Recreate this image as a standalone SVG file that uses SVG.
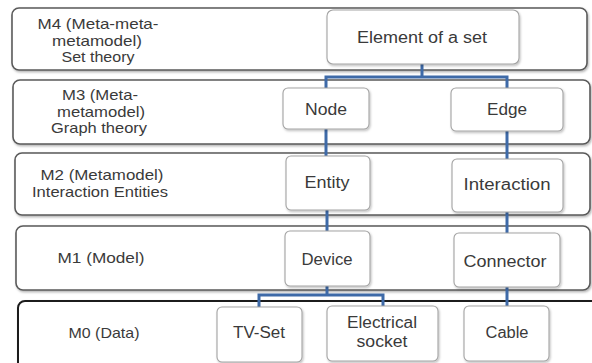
<svg xmlns="http://www.w3.org/2000/svg" width="592" height="363" viewBox="0 0 592 363">
<style>
.layer{fill:#fff;stroke:#5a5a5a;stroke-width:1.6;filter:url(#sh)}
.node{fill:#fff;stroke:#a3a3a3;stroke-width:1.1;filter:url(#sh2)}
text{font-family:"Liberation Sans",Arial,sans-serif;font-size:16px;fill:#3a3a3a;text-anchor:middle}
.lbl{font-size:15px}
.conn{fill:none;stroke:#3e6aa8;stroke-width:3}
</style>
<defs>
<filter id="sh" x="-5%" y="-10%" width="110%" height="130%">
<feDropShadow dx="1" dy="1.5" stdDeviation="0.8" flood-color="#000" flood-opacity="0.3"/>
</filter>
<filter id="sh2" x="-10%" y="-10%" width="125%" height="130%">
<feDropShadow dx="1" dy="1.5" stdDeviation="1" flood-color="#000" flood-opacity="0.25"/>
</filter>
</defs>
<g id="layer-m4"><rect class="layer" x="12" y="8" width="575" height="62" rx="7"/>
<text class="lbl" x="98" y="29" textLength="121" lengthAdjust="spacingAndGlyphs">M4 (Meta-meta-</text>
<text class="lbl" x="97" y="46" textLength="90" lengthAdjust="spacingAndGlyphs">metamodel)</text>
<text class="lbl" x="98" y="62" textLength="73" lengthAdjust="spacingAndGlyphs">Set theory</text></g>
<g id="layer-m3"><rect class="layer" x="13" y="80" width="577" height="64" rx="7"/>
<text class="lbl" x="100" y="100" textLength="76" lengthAdjust="spacingAndGlyphs">M3 (Meta-</text>
<text class="lbl" x="101" y="117" textLength="88" lengthAdjust="spacingAndGlyphs">metamodel)</text>
<text class="lbl" x="99" y="133" textLength="96" lengthAdjust="spacingAndGlyphs">Graph theory</text></g>
<g id="layer-m2"><rect class="layer" x="15" y="153" width="575" height="62" rx="7"/>
<text class="lbl" x="102" y="180" textLength="123" lengthAdjust="spacingAndGlyphs">M2 (Metamodel)</text>
<text class="lbl" x="100" y="197" textLength="136" lengthAdjust="spacingAndGlyphs">Interaction Entities</text></g>
<g id="layer-m1"><rect class="layer" x="16" y="226" width="574" height="64" rx="7"/>
<text class="lbl" x="101" y="263" textLength="87" lengthAdjust="spacingAndGlyphs">M1 (Model)</text></g>
<g id="layer-m0"><rect class="layer" x="18" y="301" width="590" height="72" rx="7" style="stroke:#1e1e1e;stroke-width:2"/>
<text class="lbl" x="104" y="338" textLength="71" lengthAdjust="spacingAndGlyphs">M0 (Data)</text></g>
<g id="connectors">
<path class="conn" d="M422,64 V77 H326 V88 M422,77 H507 V88"/>
<path class="conn" d="M326,129 V156"/>
<path class="conn" d="M507,131 V159"/>
<path class="conn" d="M327,210 V231"/>
<path class="conn" d="M507,212 V233"/>
<path class="conn" d="M327,286 V295 H259 V307 M327,295 H383 V306"/>
<path class="conn" d="M507,287 V306"/>
</g>
<g id="node-element"><rect class="node" x="327" y="10" width="192" height="54" rx="6"/>
<text x="422" y="43" textLength="130" lengthAdjust="spacingAndGlyphs">Element of a set</text></g>
<g id="node-node"><rect class="node" x="283" y="88" width="86" height="41" rx="5"/>
<text x="326" y="115" textLength="42" lengthAdjust="spacingAndGlyphs">Node</text></g>
<g id="node-edge"><rect class="node" x="451" y="88" width="112" height="43" rx="5"/>
<text x="507" y="115" textLength="40" lengthAdjust="spacingAndGlyphs">Edge</text></g>
<g id="node-entity"><rect class="node" x="286" y="156" width="84" height="54" rx="5"/>
<text x="327" y="188" textLength="45" lengthAdjust="spacingAndGlyphs">Entity</text></g>
<g id="node-interaction"><rect class="node" x="452" y="159" width="111" height="53" rx="5"/>
<text x="507" y="190" textLength="87" lengthAdjust="spacingAndGlyphs">Interaction</text></g>
<g id="node-device"><rect class="node" x="285" y="231" width="85" height="55" rx="5"/>
<text x="327" y="265" textLength="51" lengthAdjust="spacingAndGlyphs">Device</text></g>
<g id="node-connector"><rect class="node" x="454" y="233" width="106" height="54" rx="5"/>
<text x="505" y="267" textLength="83" lengthAdjust="spacingAndGlyphs">Connector</text></g>
<g id="node-tvset"><rect class="node" x="217" y="307" width="85" height="55" rx="5"/>
<text x="259" y="338" textLength="52" lengthAdjust="spacingAndGlyphs">TV-Set</text></g>
<g id="node-socket"><rect class="node" x="327" y="306" width="111" height="55" rx="5"/>
<text x="382" y="328" textLength="70" lengthAdjust="spacingAndGlyphs">Electrical</text>
<text x="382" y="347" textLength="51" lengthAdjust="spacingAndGlyphs">socket</text></g>
<g id="node-cable"><rect class="node" x="464" y="306" width="85" height="55" rx="5"/>
<text x="507" y="338" textLength="43" lengthAdjust="spacingAndGlyphs">Cable</text></g>
</svg>
